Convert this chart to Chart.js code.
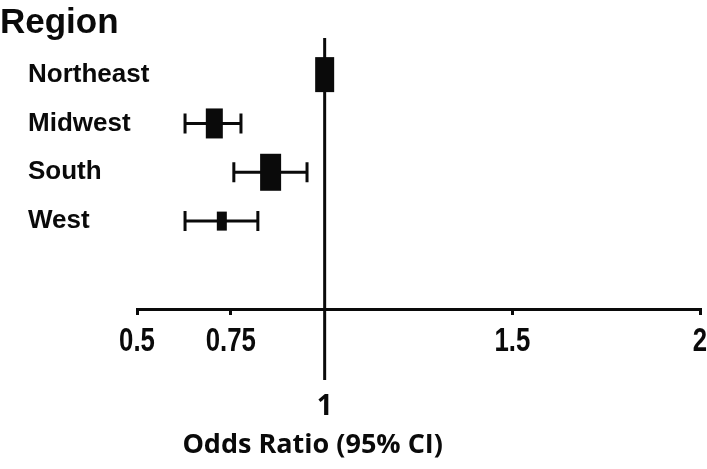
<!DOCTYPE html>
<html>
<head>
<meta charset="utf-8">
<style>
  html, body { margin: 0; padding: 0; background: #fff; }
  #wrap { width: 707px; height: 469px; }
</style>
<script src="https://cdn.jsdelivr.net/npm/chart.js@4/dist/chart.umd.min.js"></script>
</head>
<body>
<div id="wrap"><canvas id="c" width="707" height="469"></canvas></div>
<script>
// Data
const regions = ['Northeast', 'Midwest', 'South', 'West'];
const oddsRatio = [1.0, 0.706, 0.856, 0.726];
const ciLow = [null, 0.628, 0.758, 0.628];   // Northeast is the reference group
const ciHigh = [null, 0.777, 0.953, 0.822];
const xTicks = [0.5, 0.75, 1.5, 2];
const refValue = 1;

const ink = '#0a0a0a';
// marker box size per row (weight of estimate), in px
const boxW = [19, 17, 21, 10];
const boxH = [35, 30, 37, 19];

const forestPlugin = {
  id: 'forest',
  afterDatasetsDraw(chart) {
    const { ctx, chartArea, scales: { x, y } } = chart;
    ctx.save();
    ctx.strokeStyle = ink;
    ctx.fillStyle = ink;

    // line of no effect, runs down past the axis
    const xRef = x.getPixelForValue(refValue);
    ctx.lineWidth = 3;
    ctx.beginPath();
    ctx.moveTo(xRef, chartArea.top);
    ctx.lineTo(xRef, chartArea.bottom + 71);
    ctx.stroke();

    regions.forEach((name, i) => {
      const py = y.getPixelForValue(i);
      if (ciLow[i] != null) {
        const xl = x.getPixelForValue(ciLow[i]);
        const xh = x.getPixelForValue(ciHigh[i]);
        ctx.lineWidth = 3;
        ctx.beginPath();
        ctx.moveTo(xl, py); ctx.lineTo(xh, py);
        ctx.moveTo(xl, py - 10); ctx.lineTo(xl, py + 10);
        ctx.moveTo(xh, py - 10); ctx.lineTo(xh, py + 10);
        ctx.stroke();
      }
      const px = x.getPixelForValue(oddsRatio[i]);
      ctx.fillRect(px - boxW[i] / 2, py - boxH[i] / 2, boxW[i], boxH[i]);

      ctx.font = 'bold 26px "Liberation Sans", Arial, sans-serif';
      ctx.textAlign = 'left';
      ctx.textBaseline = 'middle';
      ctx.fillText(name, 28, py);
    });

    // tick labels, condensed like the original
    ctx.font = 'bold 33px "Liberation Sans", Arial, sans-serif';
    ctx.textAlign = 'center';
    ctx.textBaseline = 'middle';
    xTicks.forEach(v => {
      ctx.save();
      ctx.translate(x.getPixelForValue(v), chartArea.bottom + 33);
      ctx.scale(0.78, 1);
      ctx.fillText(String(v), 0, 0);
      ctx.restore();
    });

    // header
    ctx.font = 'bold 35px "Liberation Sans", Arial, sans-serif';
    ctx.textAlign = 'left';
    ctx.textBaseline = 'alphabetic';
    ctx.fillText('Region', 0, 33);

    // the "1" sits under the reference line, then the axis title
    ctx.font = 'bold 28px "Open Sans", sans-serif';
    ctx.textAlign = 'center';
    ctx.textBaseline = 'middle';
    ctx.fillText(String(refValue), xRef, 407);
    ctx.font = 'bold 27px "Open Sans", sans-serif';
    ctx.fillText('Odds Ratio (95% CI)', xRef - 12, 445);
    ctx.restore();
  }
};

new Chart(document.getElementById('c'), {
  type: 'scatter',
  data: {
    datasets: [{
      data: regions.map((r, i) => ({ x: oddsRatio[i], y: i })),
      pointRadius: 0,
      pointHoverRadius: 0
    }]
  },
  options: {
    responsive: false,
    animation: false,
    events: [],
    layout: { padding: { left: 137, right: 7, top: 38, bottom: 0 } },
    plugins: { legend: { display: false }, tooltip: { enabled: false } },
    scales: {
      y: { type: 'linear', min: -0.75, max: 4.8, reverse: true, display: false },
      x: {
        type: 'linear',
        position: 'bottom',
        min: 0.5,
        max: 2,
        afterBuildTicks: (s) => { s.ticks = xTicks.map(v => ({ value: v })); },
        afterFit: (s) => { s.height = 160; },
        border: { color: ink, width: 3 },
        grid: { drawOnChartArea: false, drawTicks: true, tickLength: 6, color: ink, lineWidth: 3 },
        ticks: { display: false }
      }
    }
  },
  plugins: [forestPlugin]
});
</script>
</body>
</html>
